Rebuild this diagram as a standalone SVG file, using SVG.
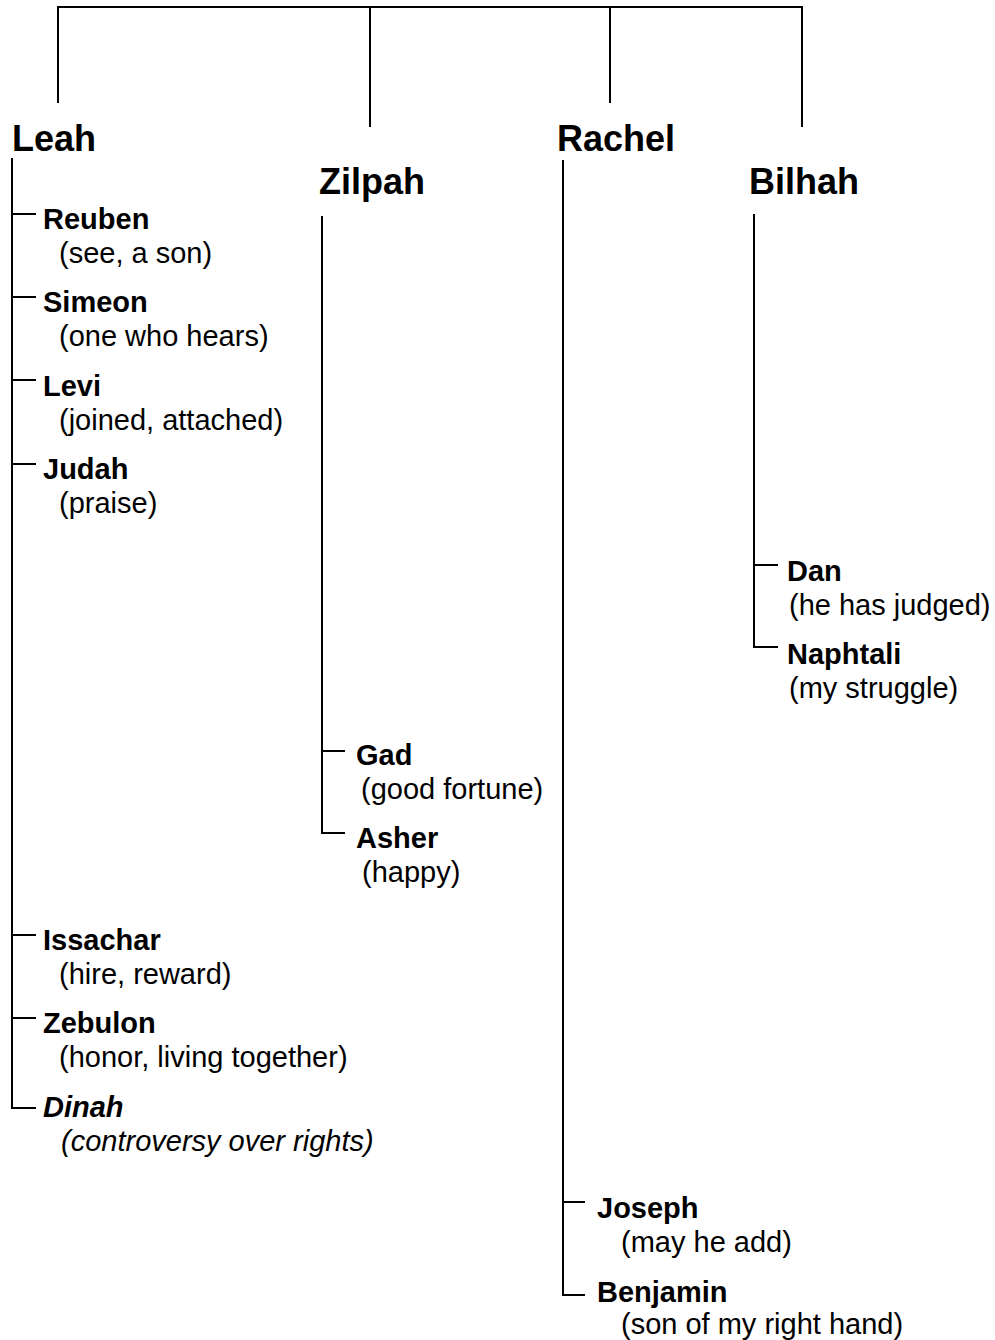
<svg xmlns="http://www.w3.org/2000/svg" width="995" height="1340" viewBox="0 0 995 1340">
<style>
.c{fill:none;stroke:#000;stroke-width:2}
text{font-family:"Liberation Sans",Arial,sans-serif;fill:#000}
.p{font-size:36px;font-weight:bold}
.n{font-size:29px;font-weight:bold}
.m{font-size:29px}
.i{font-style:italic}
</style>
<rect width="995" height="1340" fill="#fff"/>
<g id="connectors">
<path class="c" d="M58,103V7H802V127M370,7V127M610,7V103"/>
<path class="c" d="M12,158V1108H36M12,214H36M12,297H36M12,380H36M12,464H36M12,935H36M12,1018H36"/>
<path class="c" d="M322,216V833H345M322,751H345"/>
<path class="c" d="M754,214V647H778M754,565H778"/>
<path class="c" d="M563,160V1295H585M563,1202H585"/>
</g>
<g id="leah"><text class="p" x="12" y="151">Leah</text></g>
<g id="zilpah"><text class="p" x="319" y="194">Zilpah</text></g>
<g id="rachel"><text class="p" x="557" y="151">Rachel</text></g>
<g id="bilhah"><text class="p" x="749" y="194">Bilhah</text></g>
<g id="reuben"><text class="n" x="43" y="229">Reuben</text><text class="m" x="59" y="263">(see, a son)</text></g>
<g id="simeon"><text class="n" x="43" y="312">Simeon</text><text class="m" x="59" y="346">(one who hears)</text></g>
<g id="levi"><text class="n" x="43" y="396">Levi</text><text class="m" x="59" y="430">(joined, attached)</text></g>
<g id="judah"><text class="n" x="43" y="479">Judah</text><text class="m" x="59" y="513">(praise)</text></g>
<g id="issachar"><text class="n" x="43" y="950">Issachar</text><text class="m" x="59" y="984">(hire, reward)</text></g>
<g id="zebulon"><text class="n" x="43" y="1033">Zebulon</text><text class="m" x="59" y="1067">(honor, living together)</text></g>
<g id="dinah"><text class="n i" x="43" y="1117">Dinah</text><text class="m i" x="61" y="1151">(controversy over rights)</text></g>
<g id="gad"><text class="n" x="356" y="765">Gad</text><text class="m" x="361" y="799">(good fortune)</text></g>
<g id="asher"><text class="n" x="356" y="848">Asher</text><text class="m" x="362" y="882">(happy)</text></g>
<g id="dan"><text class="n" x="787" y="581">Dan</text><text class="m" x="789" y="615">(he has judged)</text></g>
<g id="naphtali"><text class="n" x="787" y="664">Naphtali</text><text class="m" x="789" y="698">(my struggle)</text></g>
<g id="joseph"><text class="n" x="597" y="1218">Joseph</text><text class="m" x="621" y="1252">(may he add)</text></g>
<g id="benjamin"><text class="n" x="597" y="1302">Benjamin</text><text class="m" x="621" y="1334">(son of my right hand)</text></g>
</svg>
